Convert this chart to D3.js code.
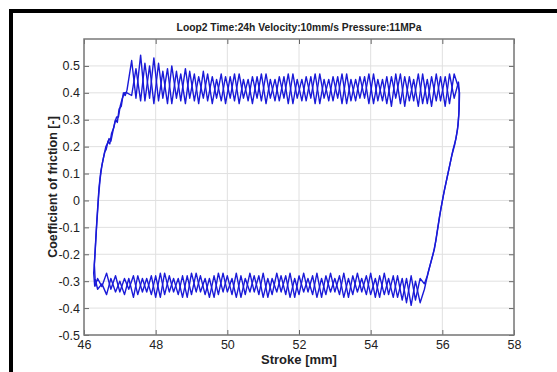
<!DOCTYPE html>
<html><head><meta charset="utf-8">
<script src="https://cdn.jsdelivr.net/npm/d3@7"></script>
<style>html,body{margin:0;padding:0;background:#fff;} svg{display:block;}</style>
</head><body><svg id="c" width="557" height="372"></svg>
<script>
const title = "Loop2 Time:24h Velocity:10mm/s Pressure:11MPa";
const xLabel = "Stroke [mm]";
const yLabel = "Coefficient of friction [-]";
const xTicks = [46,48,50,52,54,56,58];
const yTicks = [-0.5,-0.4,-0.3,-0.2,-0.1,0,0.1,0.2,0.3,0.4,0.5];

// upper branch (stroke increasing)
const topStroke = [
 47.20,47.33,47.45,47.58,47.70,47.83,47.95,48.08,48.20,48.33,
 48.45,48.58,48.70,48.83,48.95,49.08,49.20,49.33,49.45,49.58,
 49.70,49.83,49.95,50.08,50.20,50.33,50.45,50.58,50.70,50.83,
 50.95,51.08,51.20,51.33,51.45,51.58,51.70,51.83,51.95,52.08,
 52.20,52.33,52.45,52.58,52.70,52.83,52.95,53.08,53.20,53.33,
 53.45,53.58,53.70,53.83,53.95,54.08,54.20,54.33,54.45,54.58,
 54.70,54.83,54.95,55.08,55.20,55.33,55.45,55.58,55.70,55.83,
 55.95,56.08,56.20,56.33,56.45];
const topFrictionA = [
 0.41,0.52,0.38,0.54,0.37,0.50,0.36,0.51,0.38,0.49,
 0.36,0.48,0.37,0.49,0.38,0.47,0.36,0.48,0.37,0.46,
 0.38,0.47,0.36,0.46,0.37,0.47,0.38,0.45,0.36,0.46,
 0.37,0.47,0.38,0.45,0.37,0.46,0.36,0.47,0.38,0.45,
 0.37,0.46,0.36,0.47,0.38,0.45,0.37,0.46,0.36,0.47,
 0.37,0.45,0.38,0.46,0.36,0.47,0.37,0.45,0.36,0.46,
 0.38,0.47,0.35,0.46,0.37,0.47,0.36,0.45,0.35,0.47,
 0.37,0.46,0.36,0.47,0.42];
const topFrictionB = [
 0.40,0.39,0.49,0.37,0.51,0.38,0.53,0.37,0.48,0.36,
 0.50,0.38,0.47,0.36,0.48,0.37,0.46,0.38,0.47,0.36,
 0.45,0.37,0.46,0.38,0.47,0.36,0.45,0.37,0.46,0.38,
 0.47,0.36,0.45,0.37,0.46,0.38,0.47,0.36,0.45,0.37,
 0.46,0.38,0.47,0.36,0.45,0.37,0.46,0.38,0.47,0.36,
 0.45,0.37,0.46,0.38,0.47,0.36,0.45,0.37,0.46,0.35,
 0.47,0.36,0.46,0.37,0.45,0.35,0.47,0.36,0.46,0.37,
 0.46,0.35,0.47,0.38,0.44];

// lower branch (stroke decreasing)
const bottomStroke = [
 55.50,55.38,55.25,55.13,55.00,54.88,54.75,54.63,54.50,54.38,
 54.25,54.13,54.00,53.88,53.75,53.63,53.50,53.38,53.25,53.13,
 53.00,52.88,52.75,52.63,52.50,52.38,52.25,52.13,52.00,51.88,
 51.75,51.63,51.50,51.38,51.25,51.13,51.00,50.88,50.75,50.63,
 50.50,50.38,50.25,50.13,50.00,49.88,49.75,49.63,49.50,49.38,
 49.25,49.13,49.00,48.88,48.75,48.63,48.50,48.38,48.25,48.13,
 48.00,47.88,47.75,47.63,47.50,47.38,47.25,47.13,47.00,46.88,
 46.75,46.63,46.50,46.38];
const bottomFrictionA = [
 -0.33,-0.38,-0.30,-0.39,-0.29,-0.37,-0.28,-0.36,-0.29,-0.35,
 -0.28,-0.36,-0.27,-0.35,-0.29,-0.34,-0.28,-0.36,-0.27,-0.35,
 -0.29,-0.34,-0.28,-0.36,-0.27,-0.35,-0.29,-0.34,-0.28,-0.36,
 -0.27,-0.35,-0.28,-0.34,-0.29,-0.36,-0.27,-0.35,-0.28,-0.34,
 -0.29,-0.36,-0.27,-0.35,-0.28,-0.34,-0.27,-0.36,-0.29,-0.35,
 -0.28,-0.34,-0.27,-0.36,-0.28,-0.35,-0.29,-0.34,-0.27,-0.36,
 -0.28,-0.35,-0.29,-0.34,-0.28,-0.36,-0.29,-0.35,-0.30,-0.34,
 -0.29,-0.35,-0.31,-0.33];
const bottomFrictionB = [
 -0.31,-0.29,-0.37,-0.28,-0.38,-0.29,-0.36,-0.28,-0.35,-0.27,
 -0.36,-0.29,-0.35,-0.28,-0.34,-0.27,-0.35,-0.29,-0.36,-0.28,
 -0.34,-0.27,-0.35,-0.29,-0.36,-0.28,-0.34,-0.27,-0.35,-0.29,
 -0.36,-0.28,-0.34,-0.27,-0.35,-0.29,-0.36,-0.28,-0.34,-0.27,
 -0.35,-0.28,-0.36,-0.29,-0.34,-0.27,-0.35,-0.28,-0.36,-0.29,
 -0.34,-0.27,-0.35,-0.28,-0.36,-0.29,-0.34,-0.28,-0.35,-0.27,
 -0.36,-0.28,-0.34,-0.29,-0.35,-0.28,-0.33,-0.29,-0.34,-0.28,
 -0.33,-0.27,-0.32,-0.29];

// reversal segments [stroke, friction]
const leftRiseA = [[46.30,-0.32],[46.27,-0.27],[46.30,-0.21],[46.33,-0.14],[46.36,-0.07],[46.39,-0.01],[46.42,0.05],[46.47,0.11],[46.53,0.15],[46.58,0.18],[46.62,0.19],[46.67,0.22],[46.72,0.21],[46.77,0.25],[46.83,0.27],[46.88,0.30],[46.93,0.29],[46.98,0.34],[47.04,0.35],[47.10,0.40],[47.15,0.39]];
const leftRiseB = [[46.31,-0.29],[46.29,-0.24],[46.32,-0.17],[46.35,-0.10],[46.38,-0.04],[46.41,0.02],[46.45,0.08],[46.50,0.13],[46.56,0.17],[46.61,0.20],[46.65,0.21],[46.70,0.23],[46.75,0.22],[46.81,0.26],[46.86,0.29],[46.91,0.31],[46.96,0.31],[47.01,0.35],[47.07,0.38],[47.13,0.40]];
const rightFallA = [[56.48,0.40],[56.47,0.34],[56.44,0.28],[56.38,0.23],[56.30,0.19],[56.22,0.14],[56.14,0.09],[56.06,0.04],[55.99,-0.01],[55.92,-0.06],[55.85,-0.12],[55.78,-0.18],[55.70,-0.22],[55.62,-0.26],[55.55,-0.30]];
const rightFallB = [[56.47,0.41],[56.46,0.32],[56.42,0.26],[56.35,0.21],[56.27,0.17],[56.19,0.12],[56.11,0.07],[56.03,0.02],[55.96,-0.03],[55.89,-0.09],[55.82,-0.15],[55.74,-0.20],[55.66,-0.24],[55.58,-0.28]];

const svg = d3.select("#c");
const L = 84, R = 514, T = 39, B = 335;
const x = d3.scaleLinear().domain([46,58]).range([L,R]);
const y = d3.scaleLinear().domain([-0.5,0.6]).range([B,T]);
const font = "'Liberation Sans', Arial, sans-serif";

// outer black frame
svg.append("path").attr("d","M11,372V11H557").attr("fill","none").attr("stroke","#000").attr("stroke-width",4);

// grid
const g = svg.append("g");
g.selectAll(".gx").data(xTicks).join("line")
  .attr("x1",d=>x(d)).attr("x2",d=>x(d)).attr("y1",T).attr("y2",B)
  .attr("stroke","#e0e0e0").attr("stroke-width",1);
g.selectAll(".gy").data(yTicks).join("line")
  .attr("y1",d=>y(d)).attr("y2",d=>y(d)).attr("x1",L).attr("x2",R)
  .attr("stroke","#e0e0e0").attr("stroke-width",1);

// data
const line = d3.line().x(d=>x(d[0])).y(d=>y(d[1]));
const zip = (a,b)=>a.map((v,i)=>[v,b[i]]);
const cycleA = [].concat(leftRiseA, zip(topStroke,topFrictionA), rightFallA, zip(bottomStroke,bottomFrictionA));
const cycleB = [].concat(leftRiseB, zip(topStroke,topFrictionB), rightFallB, zip(bottomStroke,bottomFrictionB));
svg.append("path").datum(cycleA.concat([leftRiseB[0]])).attr("d",line).attr("fill","none").attr("stroke","#1a1ad8").attr("stroke-width",1.4).attr("stroke-linejoin","round");
svg.append("path").datum(cycleB.concat([leftRiseA[0]])).attr("d",line).attr("fill","none").attr("stroke","#1a1ad8").attr("stroke-width",1.4).attr("stroke-linejoin","round");

// axes
const fmtY = d => Math.abs(d)<1e-9 ? "0" : d.toFixed(1);
const axB = d3.axisBottom(x).tickValues(xTicks).tickSize(-5).tickPadding(5).tickFormat(d=>String(d));
const axT = d3.axisTop(x).tickValues(xTicks).tickSize(-5).tickFormat("");
const axL = d3.axisLeft(y).tickValues(yTicks).tickSize(-5).tickPadding(4).tickFormat(fmtY);
const axR = d3.axisRight(y).tickValues(yTicks).tickSize(-5).tickFormat("");
function style(sel){
  sel.select(".domain").remove();
  sel.selectAll(".tick line").attr("stroke","#666").attr("stroke-width",1);
  sel.selectAll("text").attr("fill","#222").style("font-family",font).style("font-size","12.5px");
}
svg.append("g").attr("transform",`translate(0,${B})`).call(axB).call(style);
svg.append("g").attr("transform",`translate(0,${T})`).call(axT).call(style);
svg.append("g").attr("transform",`translate(${L},0)`).call(axL).call(style);
svg.append("g").attr("transform",`translate(${R},0)`).call(axR).call(style);

// box
svg.append("rect").attr("x",L).attr("y",T).attr("width",R-L).attr("height",B-T)
  .attr("fill","none").attr("stroke","#7a7a7a").attr("stroke-width",1.5);

// labels
svg.append("text").attr("x",(L+R)/2).attr("y",31).attr("text-anchor","middle")
  .style("font-family",font).style("font-size","10.3px").style("font-weight","bold").attr("fill","#222").text(title);
svg.append("text").attr("x",(L+R)/2).attr("y",364).attr("text-anchor","middle")
  .style("font-family",font).style("font-size","13px").style("font-weight","bold").attr("fill","#222").text(xLabel);
svg.append("text").attr("transform",`translate(57,${(T+B)/2}) rotate(-90)`).attr("text-anchor","middle")
  .style("font-family",font).style("font-size","12.5px").style("font-weight","bold").attr("fill","#222").text(yLabel);
</script></body></html>
